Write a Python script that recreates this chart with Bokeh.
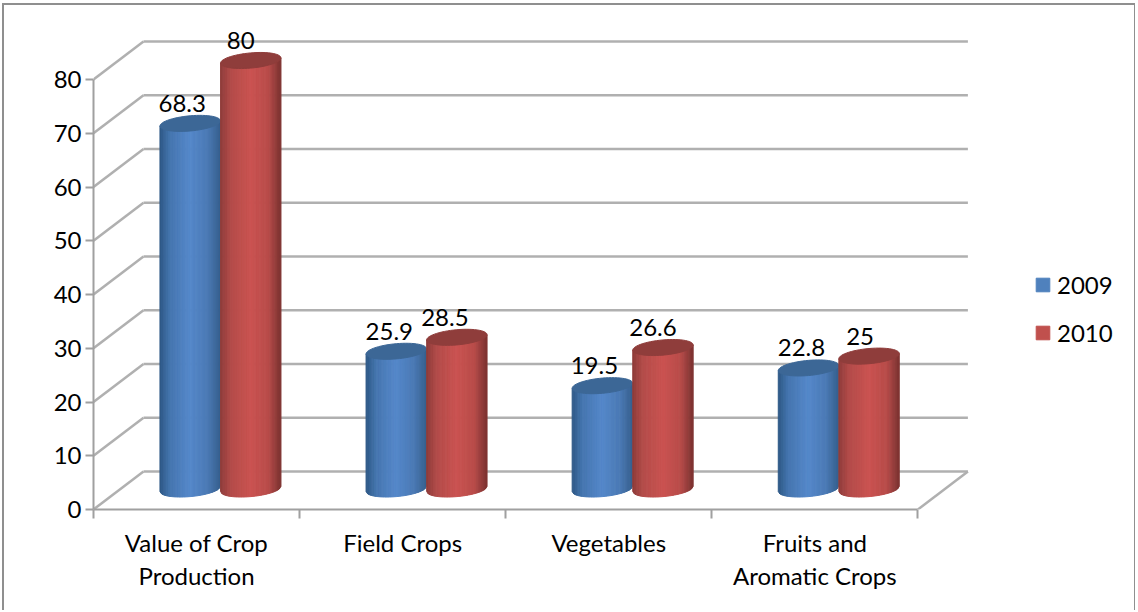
import numpy as np
from bokeh.embed import file_html
from bokeh.resources import INLINE
from bokeh.plotting import figure
from bokeh.models import FixedTicker, Legend, LegendItem, LinearAxis, Range1d
from bokeh.core.properties import value

categories = ["Value of Crop\nProduction", "Field Crops", "Vegetables", "Fruits and\nAromatic Crops"]
series_names = ["2009", "2010"]
series_2009 = [68.3, 25.9, 19.5, 22.8]
series_2010 = [80, 28.5, 26.6, 25]
y_ticks = [0, 10, 20, 30, 40, 50, 60, 70, 80]
label_text_2009 = ["68.3", "25.9", "19.5", "22.8"]
label_text_2010 = ["80", "28.5", "26.6", "25"]

FONT = "Lato"
FS = "24px"
ORIGIN_X, ORIGIN_Y = 4, 5   # inner corner of the chart's border lines
W, H = 1137 - ORIGIN_X, 612 - ORIGIN_Y
LEFT, BOTTOM = 93 - ORIGIN_X, 103
PX_X = 206.1   # pixels per category
PX_Y = 5.375   # pixels per value unit
DX, DY = 50 / PX_X, 38 / PX_Y  # 3D depth
GRID = "#b0b0b0"
AXIS = "#a0a0a0"
BORDER = "2px solid #8f8f8f"

p = figure(width=W, height=H, output_backend="svg", toolbar_location=None,
           x_range=Range1d(0, (W - LEFT) / PX_X), y_range=Range1d(0, (H - BOTTOM) / PX_Y),
           x_axis_location=None, y_axis_location=None,
           min_border_left=LEFT, min_border_right=0, min_border_top=0, min_border_bottom=BOTTOM,
           styles={"position": "absolute", "left": "2px", "top": "3px",
                   "border-top": BORDER, "border-left": BORDER, "border-right": "1px solid #8f8f8f"})
p.outline_line_color = None
p.grid.visible = False

# walls
p.segment(x0=[DX] * len(y_ticks), x1=[4 + DX] * len(y_ticks),
          y0=[v + DY for v in y_ticks], y1=[v + DY for v in y_ticks],
          line_color=GRID, line_width=2.5)
p.segment(x0=[0] * len(y_ticks), x1=[DX] * len(y_ticks),
          y0=y_ticks, y1=[v + DY for v in y_ticks], line_color=GRID, line_width=2.5)
p.segment(x0=[4], x1=[4 + DX], y0=[0], y1=[DY], line_color=GRID, line_width=2.5)

# axes
yax = LinearAxis(ticker=FixedTicker(ticks=y_ticks), bounds=(0, 80))
yax.axis_line_color = AXIS
yax.axis_line_width = 2
yax.major_tick_line_color = AXIS
yax.major_tick_line_width = 2
yax.major_tick_in = 0
yax.major_tick_out = 8
yax.minor_tick_line_color = None
yax.major_label_text_font = FONT
yax.major_label_text_font_size = FS
yax.major_label_text_color = "#000000"
yax.major_label_standoff = 4
p.add_layout(yax, "left")

centers = [i + 0.5 for i in range(len(categories))]
xax = LinearAxis(ticker=FixedTicker(ticks=centers, minor_ticks=list(range(len(categories) + 1))),
                 bounds=(0, 4), major_label_overrides=dict(zip(centers, categories)))
xax.axis_line_color = AXIS
xax.axis_line_width = 2
xax.major_tick_line_color = None
xax.major_tick_in = 0
xax.major_tick_out = 0
xax.minor_tick_line_color = AXIS
xax.minor_tick_line_width = 2
xax.minor_tick_in = 0
xax.minor_tick_out = 9
xax.major_label_text_font = FONT
xax.major_label_text_font_size = FS
xax.major_label_text_color = "#000000"
xax.major_label_text_line_height = 1.14
xax.major_label_standoff = 9
p.add_layout(xax, "below")

STOPS = [-1, -0.65, 0.0, 0.6, 1]
BLUE = [(0x2d, 0x57, 0x84), (0x46, 0x76, 0xb0), (0x55, 0x88, 0xca), (0x4b, 0x7a, 0xb5), (0x36, 0x60, 0x8e)]
RED = [(0x8d, 0x3c, 0x3a), (0xb3, 0x4c, 0x4a), (0xcb, 0x53, 0x51), (0xb8, 0x4c, 0x4a), (0x7c, 0x33, 0x31)]
A = 30.2 / PX_X      # half width
B = 7.6 / PX_Y       # ellipse half height
TILT = 2.6 / PX_Y    # rise from centre to right edge
FOOT = 1.5 / PX_Y    # base sits slightly above the mid-depth plane


def shade(stops, u):
    return "#%02x%02x%02x" % tuple(int(np.interp(u, STOPS, [c[k] for c in stops])) for k in range(3))


def cylinder(cx, val, stops, top_col):
    """cx: cylinder centre at the front plane, in categories; val: height."""
    xc = cx + DX / 2
    y0 = DY / 2 + FOOT
    y1 = val + DY / 2
    edges = np.linspace(-1, 1, 37)
    xs, ys, cols = [], [], []
    for a, b in zip(edges[:-1], edges[1:]):
        low = lambda u: y0 - B * np.sqrt(max(1 - u * u, 0)) + TILT * u
        xs.append([xc + A * a, xc + A * b, xc + A * b, xc + A * a])
        ys.append([low(a), low(b), y1 + TILT * b, y1 + TILT * a])
        cols.append(shade(stops, (a + b) / 2))
    p.patches(xs, ys, fill_color=cols, line_color=cols, line_width=1)
    t = np.linspace(0, 2 * np.pi, 61)
    p.patch(xc + A * np.cos(t), y1 + B * np.sin(t) + TILT * np.cos(t),
            fill_color=top_col, line_color=top_col, line_width=1)
    return xc


OFF_2009 = 0.3225
OFF_2010 = 0.6165
label_dx_2009 = [-8, -7, -8, -7]
label_dx_2010 = [-10, -12, -10, -9]
for i in range(len(categories)):
    xb = cylinder(i + OFF_2009 - 0.1213 + A, series_2009[i], BLUE, "#3c6796")
    xr = cylinder(i + OFF_2010 - 0.1213 + A, series_2010[i], RED, "#8f3d3b")
    p.text([xb], [series_2009[i] + DY / 2], text=[label_text_2009[i]], x_offset=label_dx_2009[i], y_offset=-20,
           text_font=value(FONT), text_font_size=FS, text_align="center", text_baseline="middle", text_color="#000000")
    p.text([xr], [series_2010[i] + DY / 2], text=[label_text_2010[i]], x_offset=label_dx_2010[i], y_offset=-20,
           text_font=value(FONT), text_font_size=FS, text_align="center", text_baseline="middle", text_color="#000000")

# legend
r_a = p.quad(left=[np.nan], right=[np.nan], top=[np.nan], bottom=[np.nan], fill_color="#4f81bd", line_color="#4f81bd")
r_b = p.quad(left=[np.nan], right=[np.nan], top=[np.nan], bottom=[np.nan], fill_color="#c0504d", line_color="#c0504d")
legend = Legend(items=[LegendItem(label=series_names[0], renderers=[r_a]),
                       LegendItem(label=series_names[1], renderers=[r_b])],
                location=(941, 162), orientation="vertical", padding=0, margin=0,
                glyph_width=17, glyph_height=17, label_height=17, spacing=19, label_standoff=6,
                label_text_font=FONT, label_text_font_size=FS, label_text_color="#000000",
                label_text_baseline="middle", background_fill_alpha=0, border_line_color=None)
p.add_layout(legend, "center")

open("out.html", "w").write(file_html(p, INLINE))
